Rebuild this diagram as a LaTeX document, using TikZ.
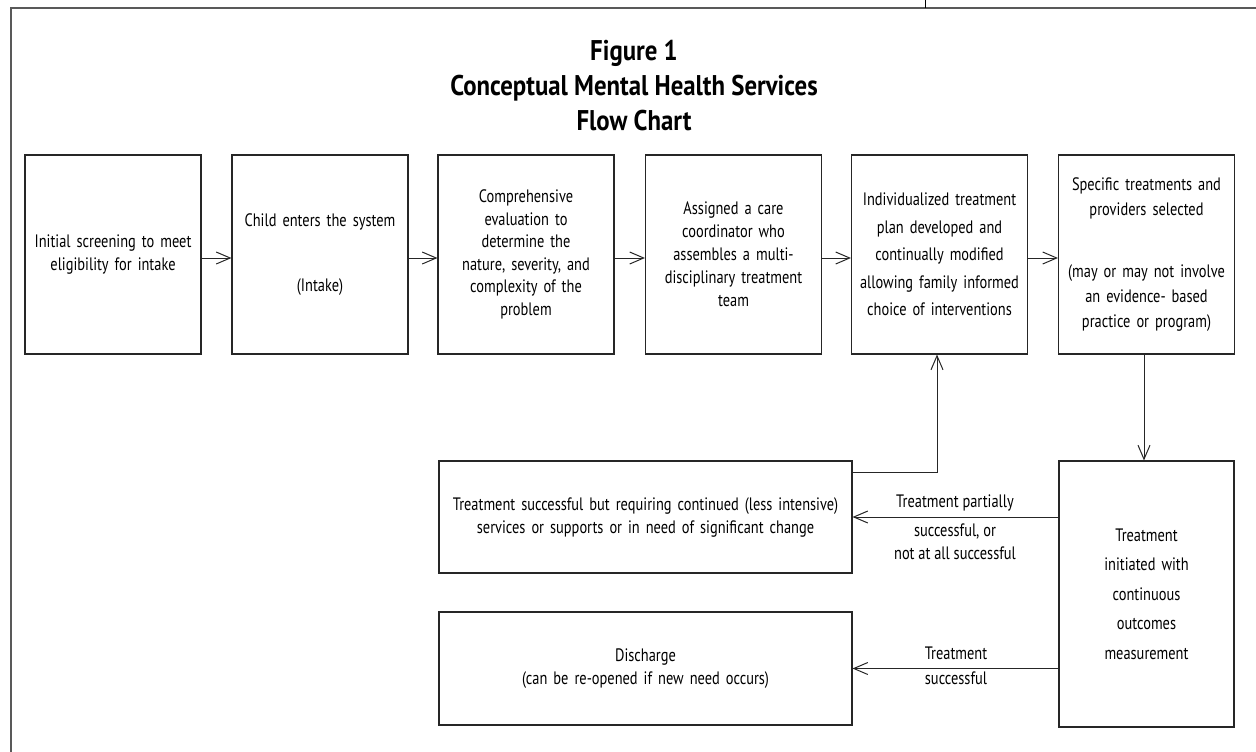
\documentclass[tikz,border=0pt]{standalone}
\usepackage{fontspec}
\setmainfont{PT Sans}[FakeStretch=0.8]
\newfontfamily\titlefont{PT Sans Bold}[FakeStretch=0.87]
\usetikzlibrary{arrows.meta}
\begin{document}
\begin{tikzpicture}[x=1pt,y=-1pt,
  box/.style={draw=black!85,line width=1.1pt,rectangle,inner sep=0pt,align=center,
    font=\fontsize{18}{23}\selectfont},
  topbox/.style={box,minimum width=176pt,minimum height=199pt,text width=172pt},
  lowbox/.style={box,minimum width=413pt,minimum height=112pt,text width=405pt},
  conn/.style={draw=black!85,line width=1pt,-{Straight Barb[length=14pt,width=12pt,line width=1pt]}},
  lbl/.style={align=center,inner sep=0pt,font=\fontsize{18}{23}\selectfont}]
\useasboundingbox (0,0) rectangle (1256,752);
% frame
\draw[black!65,line width=1.4pt] (11,752) -- (11,8) -- (1256,8);
\draw[black,line width=0.8pt] (925,0) -- (925,8);
% title
\node[align=center,font=\titlefont\fontsize{28.5}{35}\selectfont,inner sep=0pt] (title) at (634,86)
  {Figure 1\\Conceptual Mental Health Services\\Flow Chart};
% top row
\node[topbox] (b1) at (113,254.5) {Initial screening to meet\\eligibility for intake};
\node[topbox] (b2) at (320,254.5) {Child enters the system\\[42pt](Intake)};
\node[topbox,font=\fontsize{18}{22.5}\selectfont] (b3) at (526,254.5) {Comprehensive\\evaluation to\\determine the\\nature, severity, and\\complexity of the\\problem};
\node[topbox] (b4) at (733.5,254.5) {Assigned a care\\coordinator who\\assembles a multi-\\disciplinary treatment\\team};
\node[topbox,font=\fontsize{18}{27.5}\selectfont] (b5) at (939.5,254.5) {Individualized treatment\\plan developed and\\continually modified\\allowing family informed\\choice of interventions};
\node[topbox,font=\fontsize{18}{25}\selectfont] (b6) at (1146.5,254.5) {Specific treatments and\\providers selected\\[37pt](may or may not involve\\an evidence- based\\practice or program)};
% lower boxes
\node[box,minimum width=175pt,minimum height=266pt,text width=170pt,font=\fontsize{18}{29.5}\selectfont] (b7) at (1146.5,594) {Treatment\\initiated with\\continuous\\outcomes\\measurement};
\node[lowbox] (b8) at (645.5,517) {\raisebox{-7pt}{\parbox{405pt}{\centering Treatment successful but requiring continued (less intensive)\\services or supports or in need of significant change}}};
\node[lowbox,minimum height=113pt] (b9) at (645.5,668.5) {Discharge\\(can be re-opened if new need occurs)};
% connectors top row
\draw[conn] ([yshift=-3.5pt]b1.east) -- ([yshift=-3.5pt]b2.west);
\draw[conn] ([yshift=-3.5pt]b2.east) -- ([yshift=-3.5pt]b3.west);
\draw[conn] ([yshift=-3.5pt]b3.east) -- ([yshift=-3.5pt]b4.west);
\draw[conn] ([yshift=-3.5pt]b4.east) -- ([yshift=-3.5pt]b5.west);
\draw[conn] ([yshift=-3.5pt]b5.east) -- ([yshift=-3.5pt]b6.west);
\draw[conn] ([xshift=-2.5pt]b6.south) -- ([xshift=-2.5pt]b7.north);
\draw[conn] ([yshift=-12pt]b8.north east) -| ([xshift=-2.5pt]b5.south);
\draw[conn] (b7.west |- b8.east) coordinate (c1) -- (b8.east);
\draw[conn] (b7.west |- b9.east) coordinate (c2) -- (b9.east);
% labels
\node[lbl] (l1) at (955,503) {Treatment partially};
\node[lbl] (l2) at (955,541.5) {successful, or\\not at all successful};
\node[lbl] (l3) at (956,653) {Treatment};
\node[lbl] (l4) at (956,678) {successful};
\end{tikzpicture}
\end{document}
